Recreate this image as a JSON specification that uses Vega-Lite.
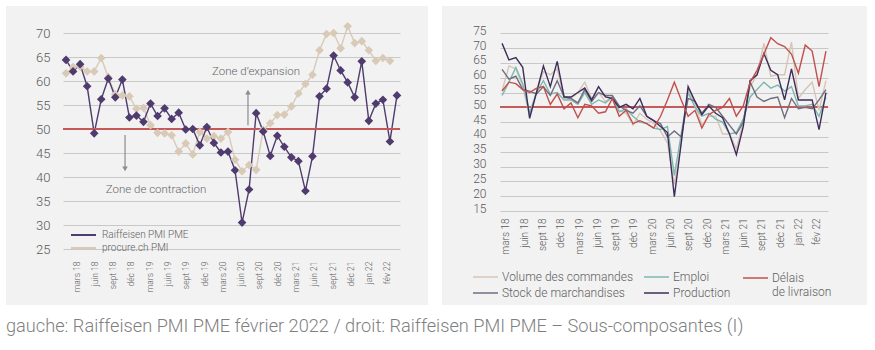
{
  "$schema": "https://vega.github.io/schema/vega-lite/v6.json",
  "padding": {"left": 6, "top": 6, "right": 0, "bottom": 0},
  "background": "white",
  "config": {
    "font": "Roboto",
    "view": {"fill": "#f2f2f2", "stroke": null},
    "concat": {"spacing": 14},
    "axis": {"labelFont": "Roboto", "labelColor": "#595959", "labelFontWeight": 300, "domain": false, "ticks": false, "gridColor": "#c8c8c8", "gridWidth": 1, "title": null, "labelOverlap": false, "labelFlush": false, "labelBound": false, "tickCount": 100},
    "legend": {"labelFont": "Roboto", "labelColor": "#606060", "labelFontWeight": 300, "title": null}
  },
  "resolve": {"scale": {"color": "independent", "shape": "independent"}, "legend": {"color": "independent"}},
  "title": {"text": "gauche: Raiffeisen PMI PME février 2022 / droit: Raiffeisen PMI PME – Sous-composantes (I)", "orient": "bottom", "anchor": "start", "offset": 13, "fontSize": 18.2, "fontWeight": 300, "color": "#7f7f7f", "font": "Roboto"},
  "datasets": {
    "pmi": [
      {"t":0,"raiffeisen":64.4,"procure":61.6},{"t":1,"raiffeisen":62.0,"procure":62.9},{"t":2,"raiffeisen":63.5,"procure":63.0},{"t":3,"raiffeisen":58.9,"procure":62.0},
      {"t":4,"raiffeisen":49.1,"procure":62.0},{"t":5,"raiffeisen":56.2,"procure":64.8},{"t":6,"raiffeisen":60.5,"procure":60.8},{"t":7,"raiffeisen":56.6,"procure":57.2},
      {"t":8,"raiffeisen":60.3,"procure":57.0},{"t":9,"raiffeisen":52.4,"procure":56.8},{"t":10,"raiffeisen":52.8,"procure":54.2},{"t":11,"raiffeisen":51.5,"procure":54.4},
      {"t":12,"raiffeisen":55.3,"procure":50.8},{"t":13,"raiffeisen":52.7,"procure":49.2},{"t":14,"raiffeisen":54.3,"procure":49.1},{"t":15,"raiffeisen":52.1,"procure":48.7},
      {"t":16,"raiffeisen":53.4,"procure":45.3},{"t":17,"raiffeisen":49.9,"procure":47.0},{"t":18,"raiffeisen":50.0,"procure":44.7},{"t":19,"raiffeisen":46.6,"procure":49.4},
      {"t":20,"raiffeisen":50.4,"procure":48.0},{"t":21,"raiffeisen":47.1,"procure":48.5},{"t":22,"raiffeisen":45.1,"procure":48.0},{"t":23,"raiffeisen":45.3,"procure":49.4},
      {"t":24,"raiffeisen":41.4,"procure":43.6},{"t":25,"raiffeisen":30.5,"procure":41.2},{"t":26,"raiffeisen":37.4,"procure":42.5},{"t":27,"raiffeisen":53.3,"procure":41.5},
      {"t":28,"raiffeisen":49.5,"procure":49.8},{"t":29,"raiffeisen":44.4,"procure":51.2},{"t":30,"raiffeisen":48.6,"procure":52.9},{"t":31,"raiffeisen":46.3,"procure":53.0},
      {"t":32,"raiffeisen":44.1,"procure":54.7},{"t":33,"raiffeisen":43.3,"procure":57.4},{"t":34,"raiffeisen":37.1,"procure":59.4},{"t":35,"raiffeisen":44.3,"procure":61.3},
      {"t":36,"raiffeisen":56.8,"procure":66.4},{"t":37,"raiffeisen":58.4,"procure":69.8},{"t":38,"raiffeisen":65.3,"procure":70.0},{"t":39,"raiffeisen":62.2,"procure":66.8},
      {"t":40,"raiffeisen":59.7,"procure":71.4},{"t":41,"raiffeisen":56.6,"procure":67.9},{"t":42,"raiffeisen":64.1,"procure":68.3},{"t":43,"raiffeisen":51.7,"procure":66.4},
      {"t":44,"raiffeisen":55.3,"procure":64.2},{"t":45,"raiffeisen":56.1,"procure":64.8},{"t":46,"raiffeisen":47.4,"procure":64.2},{"t":47,"raiffeisen":57.0,"procure":null}
    ],
    "notes": [
      {"t":26.98,"v":61.9,"txt":"Zone d’expansion"},
      {"t":12.78,"v":37.3,"txt":"Zone de contraction"}
    ],
    "fleches": [
      {"t":25.84,"v1":50.8,"v2":57.7,"dir":"haut"},
      {"t":8.38,"v1":48.75,"v2":41.7,"dir":"bas"}
    ],
    "sous": [
      {"t":0,"vol":55.5,"emp":54.0,"del":55.5,"sto":62.8,"pro":71.6},
      {"t":1,"vol":64.0,"emp":58.5,"del":58.5,"sto":59.5,"pro":66.0},
      {"t":2,"vol":63.0,"emp":63.5,"del":58.0,"sto":60.5,"pro":66.8},
      {"t":3,"vol":57.0,"emp":58.0,"del":56.0,"sto":56.0,"pro":63.5},
      {"t":4,"vol":47.0,"emp":48.0,"del":55.0,"sto":55.5,"pro":46.3},
      {"t":5,"vol":55.5,"emp":55.0,"del":56.5,"sto":54.5,"pro":55.0},
      {"t":6,"vol":62.0,"emp":59.0,"del":57.0,"sto":57.0,"pro":64.0},
      {"t":7,"vol":61.0,"emp":54.5,"del":51.0,"sto":54.0,"pro":57.0},
      {"t":8,"vol":63.0,"emp":55.0,"del":54.5,"sto":59.0,"pro":65.5},
      {"t":9,"vol":53.0,"emp":52.5,"del":49.5,"sto":53.5,"pro":53.5},
      {"t":10,"vol":53.0,"emp":52.5,"del":51.5,"sto":53.0,"pro":53.5},
      {"t":11,"vol":55.0,"emp":51.0,"del":46.5,"sto":51.5,"pro":55.0},
      {"t":12,"vol":58.5,"emp":55.0,"del":51.0,"sto":56.0,"pro":56.5},
      {"t":13,"vol":53.0,"emp":51.0,"del":50.5,"sto":52.0,"pro":52.5},
      {"t":14,"vol":55.0,"emp":52.5,"del":48.0,"sto":55.0,"pro":57.0},
      {"t":15,"vol":52.0,"emp":51.5,"del":48.5,"sto":54.0,"pro":53.5},
      {"t":16,"vol":53.5,"emp":53.5,"del":53.0,"sto":54.0,"pro":53.0},
      {"t":17,"vol":49.0,"emp":48.5,"del":47.0,"sto":50.5,"pro":50.0},
      {"t":18,"vol":48.0,"emp":49.5,"del":49.0,"sto":49.0,"pro":51.0},
      {"t":19,"vol":44.0,"emp":47.0,"del":44.5,"sto":48.0,"pro":49.5},
      {"t":20,"vol":48.0,"emp":45.0,"del":45.5,"sto":50.5,"pro":53.0},
      {"t":21,"vol":46.0,"emp":44.5,"del":44.5,"sto":47.0,"pro":47.0},
      {"t":22,"vol":44.5,"emp":43.0,"del":43.0,"sto":45.5,"pro":45.5},
      {"t":23,"vol":42.0,"emp":42.5,"del":47.0,"sto":44.5,"pro":43.5},
      {"t":24,"vol":38.0,"emp":43.5,"del":52.5,"sto":40.0,"pro":41.5},
      {"t":25,"vol":24.0,"emp":27.0,"del":58.5,"sto":42.0,"pro":19.8},
      {"t":26,"vol":38.0,"emp":41.0,"del":52.5,"sto":40.0,"pro":38.0},
      {"t":27,"vol":56.0,"emp":55.0,"del":47.0,"sto":53.0,"pro":57.0},
      {"t":28,"vol":51.0,"emp":50.0,"del":49.0,"sto":52.0,"pro":52.0},
      {"t":29,"vol":44.0,"emp":47.0,"del":43.0,"sto":48.0,"pro":47.5},
      {"t":30,"vol":47.0,"emp":48.0,"del":47.5,"sto":51.0,"pro":50.5},
      {"t":31,"vol":47.0,"emp":46.0,"del":49.0,"sto":50.0,"pro":48.0},
      {"t":32,"vol":41.0,"emp":45.0,"del":50.0,"sto":47.0,"pro":46.5},
      {"t":33,"vol":41.0,"emp":41.0,"del":53.0,"sto":44.0,"pro":41.0},
      {"t":34,"vol":36.0,"emp":41.5,"del":47.0,"sto":41.0,"pro":34.0},
      {"t":35,"vol":45.0,"emp":46.0,"del":50.5,"sto":45.0,"pro":43.5},
      {"t":36,"vol":57.0,"emp":53.5,"del":58.5,"sto":58.5,"pro":59.0},
      {"t":37,"vol":61.0,"emp":56.0,"del":62.5,"sto":53.5,"pro":61.0},
      {"t":38,"vol":71.6,"emp":58.5,"del":68.0,"sto":52.0,"pro":68.2},
      {"t":39,"vol":60.5,"emp":56.5,"del":73.5,"sto":53.0,"pro":62.5},
      {"t":40,"vol":61.0,"emp":57.5,"del":71.5,"sto":53.5,"pro":61.0},
      {"t":41,"vol":61.0,"emp":55.5,"del":70.5,"sto":46.5,"pro":52.5},
      {"t":42,"vol":72.0,"emp":57.0,"del":68.0,"sto":53.0,"pro":63.0},
      {"t":43,"vol":53.0,"emp":50.5,"del":61.5,"sto":49.5,"pro":52.5},
      {"t":44,"vol":56.0,"emp":50.5,"del":71.0,"sto":50.0,"pro":52.5},
      {"t":45,"vol":58.5,"emp":51.0,"del":69.0,"sto":49.5,"pro":52.5},
      {"t":46,"vol":49.0,"emp":47.0,"del":57.0,"sto":52.5,"pro":42.5},
      {"t":47,"vol":59.0,"emp":53.5,"del":69.0,"sto":56.0,"pro":55.0}
    ]
  },
  "hconcat": [
    {
      "width": 422,
      "height": 299,
      "layer": [
        {
          "data": {"name": "pmi"},
          "transform": [{"fold": ["procure", "raiffeisen"], "as": ["serie", "valeur"]}, {"filter": "isValid(datum.valeur)"}],
          "mark": {"type": "line", "strokeWidth": 1.4},
          "encoding": {
            "x": {"field": "t", "type": "quantitative",
                  "scale": {"domain": [-0.43, 47.43], "range": [57, 394], "nice": false, "zero": false},
                  "axis": {"values": [1.42,4.02,6.61,9.21,11.81,14.41,17.0,19.6,22.2,24.79,27.39,29.99,32.58,35.18,37.78,40.38,42.97,45.57],
                           "labelExpr": "['mars 18','juin 18','sept 18','déc 18','mars 19','juin 19','sept 19','déc 19','mars 20','juin 20','sept 20','déc 20','mars 21','juin 21','sept 21','déc 21','jan 22','fév 22'][round((datum.value - 1.42) / 2.597)]",
                           "labelAngle": -90, "offset": -56, "labelPadding": 12, "labelFontSize": 8.5, "grid": false, "tickCount": 100, "labelOverlap": false}},
            "y": {"field": "valeur", "type": "quantitative",
                  "scale": {"domain": [25, 70], "range": [243, 27], "nice": false, "zero": false},
                  "axis": {"values": [25,30,35,40,45,50,55,60,65,70], "format": "d", "offset": -50, "labelPadding": 6, "labelFontSize": 13, "grid": true, "tickCount": 100, "labelOverlap": false}},
            "color": {"field": "serie", "type": "nominal",
                      "scale": {"domain": ["raiffeisen", "procure"], "range": ["#4f3b6e", "#d8cab7"]},
                      "legend": {"orient": "none", "legendX": 64, "legendY": 222.5, "symbolType": "stroke", "symbolSize": 625, "symbolStrokeWidth": 2, "clipHeight": 13, "labelFontSize": 10, "labelOffset": 5, "rowPadding": 0, "labelBaseline": "middle",
                                 "labelExpr": "datum.label == 'raiffeisen' ? 'Raiffeisen PMI PME' : 'procure.ch PMI'"}}
          }
        },
        {
          "data": {"name": "pmi"},
          "mark": {"type": "rule", "color": "#c55a5a", "strokeWidth": 1.5},
          "encoding": {"x": {"datum": -0.43}, "x2": {"datum": 47.43}, "y": {"datum": 50}}
        },
        {
          "data": {"name": "pmi"},
          "transform": [{"fold": ["procure", "raiffeisen"], "as": ["serie", "valeur"]}, {"filter": "isValid(datum.valeur)"}],
          "mark": {"type": "point", "shape": "diamond", "filled": true, "size": 75, "opacity": 1},
          "encoding": {
            "x": {"field": "t", "type": "quantitative"},
            "y": {"field": "valeur", "type": "quantitative"},
            "color": {"field": "serie", "type": "nominal"}
          }
        },
        {
          "data": {"name": "notes"},
          "mark": {"type": "text", "fontSize": 11.5, "fontWeight": 300, "color": "#666666", "font": "Roboto"},
          "encoding": {"x": {"field": "t", "type": "quantitative"}, "y": {"field": "v", "type": "quantitative"}, "text": {"field": "txt"}}
        },
        {
          "data": {"name": "fleches"},
          "mark": {"type": "rule", "color": "#8c8c8c", "strokeWidth": 1.2},
          "encoding": {"x": {"field": "t", "type": "quantitative"}, "y": {"field": "v1", "type": "quantitative"}, "y2": {"field": "v2"}}
        },
        {
          "data": {"name": "fleches"},
          "mark": {"type": "point", "filled": true, "color": "#8c8c8c", "size": 30, "opacity": 1},
          "encoding": {"x": {"field": "t", "type": "quantitative"}, "y": {"field": "v2", "type": "quantitative"},
                       "shape": {"field": "dir", "type": "nominal", "scale": {"domain": ["haut", "bas"], "range": ["triangle-up", "triangle-down"]}, "legend": null}}
        }
      ]
    },
    {
      "width": 425,
      "height": 299,
      "resolve": {"scale": {"color": "independent"}, "legend": {"color": "independent"}},
      "layer": [
        {
          "data": {"name": "sous"},
          "mark": {"type": "rule", "color": "#c55a5a", "strokeWidth": 1.5},
          "encoding": {"x": {"datum": -0.3}, "x2": {"datum": 47.3}, "y": {"datum": 50}}
        },
        {
          "data": {"name": "sous"},
          "transform": [{"fold": ["vol", "emp", "sto", "pro"], "as": ["serie", "valeur"]}],
          "mark": {"type": "line", "strokeWidth": 1.4},
          "encoding": {
            "x": {"field": "t", "type": "quantitative",
                  "scale": {"domain": [-0.3, 47.3], "range": [58, 386], "nice": false, "zero": false},
                  "axis": {"values": [0.57,3.22,5.88,8.53,11.18,13.84,16.49,19.14,21.8,24.45,27.1,29.76,32.41,35.06,37.72,40.37,43.02,45.68],
                           "labelExpr": "['mars 18','juin 18','sept 18','déc 18','mars 19','juin 19','sept 19','déc 19','mars 20','juin 20','sept 20','déc 20','mars 21','juin 21','sept 21','déc 21','jan 22','fév 22'][round((datum.value - 0.57) / 2.653)]",
                           "labelAngle": -90, "offset": -94, "labelPadding": 7, "labelFontSize": 10, "grid": false, "tickCount": 100, "labelOverlap": false}},
            "y": {"field": "valeur", "type": "quantitative",
                  "scale": {"domain": [15, 75], "range": [205, 27.3], "nice": false, "zero": false},
                  "axis": {"values": [15,20,25,30,35,40,45,50,55,60,65,70,75], "format": "d", "offset": -50, "labelPadding": 6, "labelOffset": -3, "labelFontSize": 12, "grid": true, "tickCount": 100, "labelOverlap": false}},
            "color": {"field": "serie", "type": "nominal",
                      "scale": {"domain": ["vol", "emp", "sto", "pro"], "range": ["#d6c5b6", "#7db8b0", "#6e6e80", "#3e2c5a"]},
                      "legend": {"orient": "none", "legendX": 30, "legendY": 263.5, "direction": "horizontal", "columns": 2, "columnPadding": 10, "rowPadding": 1, "clipHeight": 15,
                                 "symbolType": "stroke", "symbolSize": 625, "symbolStrokeWidth": 1.5, "labelFontSize": 12, "labelOffset": 3, "labelLimit": 250, "labelBaseline": "middle",
                                 "labelExpr": "datum.label == 'vol' ? 'Volume des commandes' : datum.label == 'emp' ? 'Emploi' : datum.label == 'sto' ? 'Stock de marchandises' : 'Production'"}}
          }
        },
        {
          "data": {"name": "sous"},
          "transform": [{"fold": ["del"], "as": ["serie", "valeur"]}],
          "mark": {"type": "line", "strokeWidth": 1.4},
          "encoding": {
            "x": {"field": "t", "type": "quantitative"},
            "y": {"field": "valeur", "type": "quantitative"},
            "color": {"field": "serie", "type": "nominal",
                      "scale": {"domain": ["del"], "range": ["#c0504d"]},
                      "legend": {"orient": "none", "legendX": 300, "legendY": 253,
                                 "symbolType": "M-1,0.44L1,0.44", "symbolSize": 625, "symbolStrokeWidth": 1.5, "symbolFillColor": "transparent", "labelFontSize": 12, "labelOffset": 3, "labelLimit": 250, "labelBaseline": "top",
                                 "labelExpr": "['Délais', 'de livraison']"}}
          }
        }
      ]
    }
  ]
}
